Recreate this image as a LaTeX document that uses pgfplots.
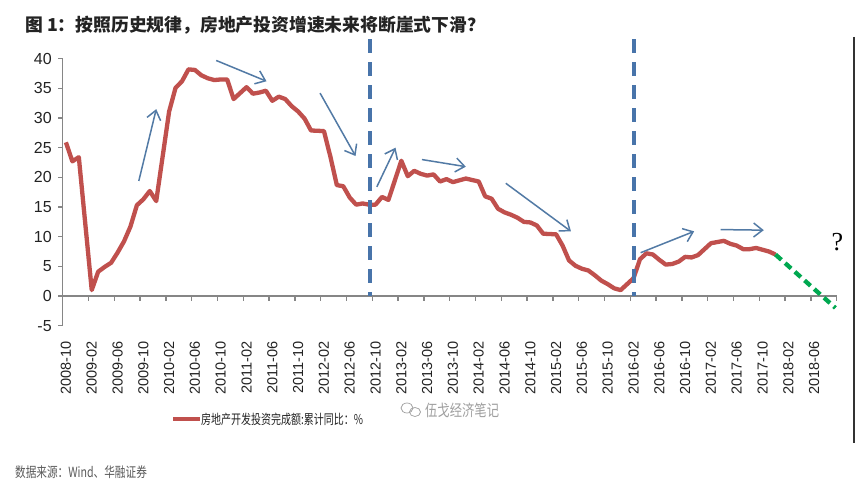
\documentclass[border=0pt]{standalone}
\usepackage{fontspec}
\usepackage{pgfplots}
\pgfplotsset{compat=1.18}
\usepackage{pgfplotstable}
\usetikzlibrary{arrows.meta}
\setmainfont{Liberation Sans}
\newfontfamily\cjk{Noto Sans CJK SC}
\newfontfamily\serif{Liberation Serif}

\definecolor{rline}{RGB}{192,80,77}
\definecolor{gline}{RGB}{0,168,80}
\definecolor{bdash}{RGB}{72,116,170}
\definecolor{barrow}{RGB}{82,122,165}
\definecolor{axgray}{RGB}{134,134,134}
\definecolor{txt}{RGB}{35,35,35}
\definecolor{wm}{RGB}{160,160,160}
\definecolor{src}{RGB}{90,90,90}

% cumulative yoy growth, month index 0 = 2008-10 (January not published)
\pgfplotstableread{
m v
0 25.9
1 22.7
2 23.4
4 1.0
5 4.1
6 4.9
7 5.6
8 7.3
9 9.2
10 11.7
11 15.3
12 16.3
13 17.7
14 16.0
16 31.1
17 35.1
18 36.2
19 38.2
20 38.1
21 37.2
22 36.7
23 36.4
24 36.5
25 36.5
26 33.2
28 35.2
29 34.1
30 34.3
31 34.6
32 32.9
33 33.6
34 33.2
35 32.0
36 31.1
37 29.9
38 27.9
40 27.8
41 23.5
42 18.7
43 18.5
44 16.6
45 15.4
46 15.6
47 15.4
48 15.4
49 16.7
50 16.2
52 22.8
53 20.2
54 21.1
55 20.6
56 20.3
57 20.5
58 19.3
59 19.7
60 19.2
61 19.5
62 19.8
64 19.3
65 16.8
66 16.4
67 14.7
68 14.1
69 13.7
70 13.2
71 12.5
72 12.4
73 11.9
74 10.5
76 10.4
77 8.5
78 6.0
79 5.1
80 4.6
81 4.3
82 3.5
83 2.6
84 2.0
85 1.3
86 1.0
88 3.0
89 6.2
90 7.2
91 7.0
92 6.1
93 5.3
94 5.4
95 5.8
96 6.6
97 6.5
98 6.9
100 8.9
101 9.1
102 9.3
103 8.8
104 8.5
105 7.9
106 7.9
107 8.1
108 7.8
109 7.5
110 7.0
}\invest

\begin{document}
\begin{tikzpicture}
\useasboundingbox (0pt,0pt) rectangle (868pt,494pt);
\fill[white] (0pt,0pt) rectangle (868pt,494pt);
\begin{axis}[
  at={(62.7pt,168.3pt)}, anchor=south west,
  scale only axis, width=774pt, height=267pt,
  xmin=-0.5, xmax=119.5, ymin=-5, ymax=40,
  clip=false,
  axis lines*=left,
  x axis line style={draw=none},
  y axis line style={axgray, line width=1.5pt},
  tick align=outside,
  major tick length=4.5pt,
  xtick style={draw=none},
  ytick style={axgray, line width=1.3pt},
  ytick={-5,0,...,40},
  xtick={0,4,...,116},
  xticklabels={2008-10,2009-02,2009-06,2009-10,2010-02,2010-06,2010-10,2011-02,2011-06,2011-10,2012-02,2012-06,2012-10,2013-02,2013-06,2013-10,2014-02,2014-06,2014-10,2015-02,2015-06,2015-10,2016-02,2016-06,2016-10,2017-02,2017-06,2017-10,2018-02,2018-06},
  xticklabel style={yshift=-11pt, rotate=90, anchor=east, inner sep=0pt, text=txt, font=\fontsize{14.5}{14.5}\selectfont},
  yticklabel style={xshift=-3pt, text=txt, font=\fontsize{16}{16}\selectfont},
  /pgf/number format/assume math mode=true,
]
\draw[axgray, line width=1.5pt] (axis cs:-0.5,0) -- (axis cs:119.5,0);
\pgfplotsinvokeforeach{3.5,7.5,...,119.5}{
  \draw[axgray, line width=1.3pt] (axis cs:#1,0) -- ([yshift=-4.5pt]axis cs:#1,0);
}
\addplot[rline, line width=4.3pt, line join=round, no markers] table[x=m, y=v] {\invest};
\addplot[gline, line width=4.3pt, dash pattern=on 8pt off 5pt, no markers] coordinates {(110,7.0) (119.3,-2.0)};
\draw[bdash, line width=4pt, dash pattern=on 14pt off 9pt] (axis cs:47.1,43.3) -- (axis cs:47.1,0);
\draw[bdash, line width=4pt, dash pattern=on 14pt off 9pt] (axis cs:88,43.3) -- (axis cs:88,0);
\begin{scope}[barrow, line width=1.5pt, -{Straight Barb[length=9pt,width=14pt]}]
\draw (axis cs:11.3,19.4) -- (axis cs:14.0,31.5);
\draw (axis cs:23.3,39.7) -- (axis cs:31.1,36.2);
\draw (axis cs:39.4,34.2) -- (axis cs:44.9,23.6);
\draw (axis cs:48.2,18.4) -- (axis cs:51.1,25.0);
\draw (axis cs:55.2,23.0) -- (axis cs:62.0,21.8);
\draw (axis cs:68.2,19.0) -- (axis cs:78.3,10.9);
\draw (axis cs:89.1,7.3) -- (axis cs:97.4,10.9);
\draw (axis cs:101.5,11.2) -- (axis cs:108.2,11.1);
\end{scope}
\node[font=\serif\fontsize{26}{26}\selectfont, text=black] at (axis cs:119.6,9.1) {?};
\end{axis}

\node[anchor=west, inner sep=0pt, text=txt, font=\cjk\bfseries\fontsize{17.8}{17.8}\selectfont] at (25pt,469pt) {图 1：按照历史规律，房地产投资增速未来将断崖式下滑？};

\draw[rline, line width=4.5pt] (173pt,75pt) -- (200pt,75pt);
\node[anchor=west, inner sep=0pt, text=txt, font=\cjk\fontsize{13.5}{13.5}\selectfont, xscale=0.74] at (201pt,75pt) {房地产开发投资完成额:累计同比：\%};

\draw[wm, line width=0.7pt] (407pt,86pt) ellipse (6pt and 5pt);
\draw[wm, line width=0.7pt] (415pt,82pt) ellipse (5.5pt and 4.5pt);
\node[anchor=west, inner sep=0pt, text=wm, font=\cjk\fontsize{16}{16}\selectfont, xscale=0.77] at (425pt,84pt) {伍戈经济笔记};

\node[anchor=west, inner sep=0pt, text=src, font=\cjk\fontsize{14}{14}\selectfont, xscale=0.76] at (15pt,22pt) {数据来源：Wind、华融证券};

\draw[black!80, line width=1.2pt] (854pt,457pt) -- (854pt,51pt);
\end{tikzpicture}
\end{document}
